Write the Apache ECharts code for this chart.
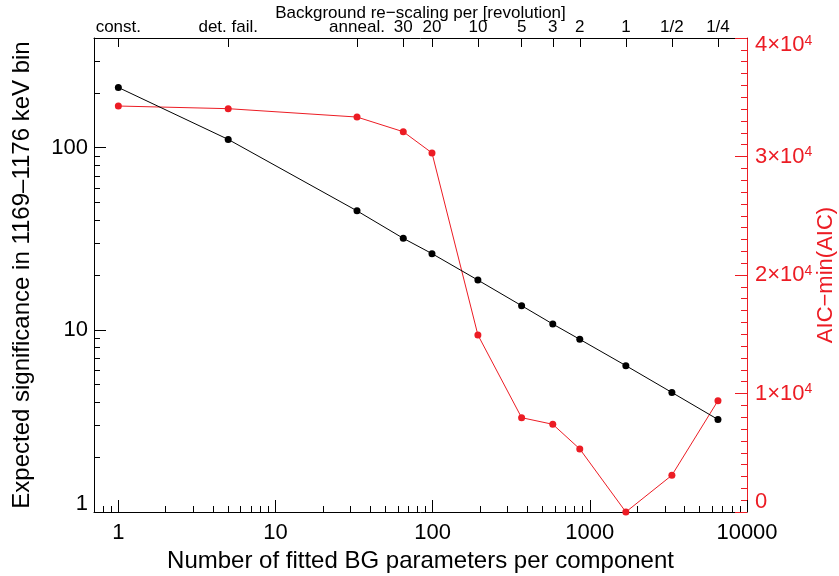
<!DOCTYPE html>
<html>
<head>
<meta charset="utf-8">
<script src="https://cdn.jsdelivr.net/npm/echarts@6/dist/echarts.min.js"></script>
<style>
html,body{margin:0;padding:0;background:#fff;}
#chart{width:839px;height:576px;}
</style>
</head>
<body>
<div id="chart"></div>
<script>
// Number of fitted BG parameters per component (x positions of the points)
var nParams = [1, 5, 33, 65, 99, 194, 368, 581, 863, 1695, 3327, 6535];
// Top-axis labels (background re-scaling per revolution)
var topLabels = ['const.', 'det. fail.', 'anneal.', '30', '20', '10', '5', '3', '2', '1', '1/2', '1/4'];
// Expected significance (left, log axis)
var significance = [214, 111, 45.0, 31.8, 26.2, 18.75, 13.57, 10.76, 8.87, 6.36, 4.53, 3.22];
// AIC - min(AIC) (right, linear axis)
var aicDiff = [34260, 34035, 33330, 32090, 30300, 14940, 7960, 7400, 5320, 0, 3100, 9390];
// Tick values
var xMajor = [1, 10, 100, 1000, 10000];
var xMinor = [0.7, 0.8, 0.9, 2, 3, 4, 5, 6, 7, 8, 9, 20, 30, 40, 50, 60, 70, 80, 90,
  200, 300, 400, 500, 600, 700, 800, 900, 2000, 3000, 4000, 5000, 6000, 7000, 8000, 9000];
var yMajor = [1, 10, 100];
var yMinor = [2, 3, 4, 5, 6, 7, 8, 9, 20, 30, 40, 50, 60, 70, 80, 90, 200, 300];

var RED = '#ec1c24';
var FONT = 'Liberation Sans';
var chart = echarts.init(document.getElementById('chart'));

function nearestIdx(arr, v) {
  var best = 0, bd = Infinity;
  for (var i = 0; i < arr.length; i++) {
    var d = Math.abs(Math.log(arr[i]) - Math.log(v));
    if (d < bd) { bd = d; best = i; }
  }
  return best;
}

var pairs = nParams.map(function (x, i) { return [x, significance[i]]; });
var pairsAic = nParams.map(function (x, i) { return [x, aicDiff[i]]; });

chart.setOption({
  animation: false,
  backgroundColor: '#fff',
  textStyle: { fontFamily: FONT },
  grid: { left: 94, right: 92, top: 38, bottom: 64, containLabel: false, outerBoundsMode: 'none' },
  xAxis: [
    {
      type: 'log', position: 'bottom', min: 0.7, max: 10000,
      axisLine: { show: true, lineStyle: { color: '#000', width: 1 } },
      axisTick: { show: true, inside: true, length: 12, customValues: xMajor, lineStyle: { color: '#000' } },
      axisLabel: { show: true, customValues: xMajor, fontSize: 22, color: '#000', margin: 10, fontFamily: FONT,
        formatter: function (v) { return String(xMajor[nearestIdx(xMajor, v)]); } },
      splitLine: { show: false },
      name: 'Number of fitted BG parameters per component',
      nameLocation: 'middle', nameGap: 37, nameMoveOverlap: false,
      nameTextStyle: { fontSize: 24, color: '#000', fontFamily: FONT }
    },
    {
      type: 'log', position: 'bottom', min: 0.7, max: 10000,
      axisLine: { show: false },
      axisTick: { show: true, inside: true, length: 6, customValues: xMinor, lineStyle: { color: '#000' } },
      axisLabel: { show: false },
      splitLine: { show: false }
    },
    {
      type: 'log', position: 'top', min: 0.7, max: 10000,
      axisLine: { show: true, lineStyle: { color: '#000', width: 1 } },
      axisTick: { show: true, inside: true, length: 9, customValues: nParams, lineStyle: { color: '#000' } },
      axisLabel: { show: true, customValues: nParams, fontSize: 17, color: '#000', margin: 2, fontFamily: FONT,
        formatter: function (v) { return topLabels[nearestIdx(nParams, v)]; } },
      splitLine: { show: false },
      name: 'Background re\u2212scaling per [revolution]',
      nameLocation: 'middle', nameGap: 16.5, nameMoveOverlap: false,
      nameTextStyle: { fontSize: 17, color: '#000', fontFamily: FONT }
    }
  ],
  yAxis: [
    {
      type: 'log', position: 'left', min: 1, max: 400,
      axisLine: { show: true, lineStyle: { color: '#000', width: 1 } },
      axisTick: { show: true, inside: true, length: 12, customValues: yMajor, lineStyle: { color: '#000' } },
      axisLabel: { show: true, customValues: yMajor, fontSize: 22, color: '#000', margin: 6, fontFamily: FONT,
        formatter: function (v) {
          var t = yMajor[nearestIdx(yMajor, v)];
          return t === 1 ? '{lo|1}' : String(t);
        },
        rich: { lo: { fontSize: 22, fontFamily: FONT, color: '#000', padding: [0, 0, 16, 0] } } },
      splitLine: { show: false },
      name: 'Expected significance in 1169\u20131176 keV bin',
      nameLocation: 'middle', nameGap: 60, nameRotate: 90, nameMoveOverlap: false,
      nameTextStyle: { fontSize: 24, color: '#000', fontFamily: FONT }
    },
    {
      type: 'log', position: 'left', min: 1, max: 400,
      axisLine: { show: false },
      axisTick: { show: true, inside: true, length: 6, customValues: yMinor, lineStyle: { color: '#000' } },
      axisLabel: { show: false },
      splitLine: { show: false }
    },
    {
      type: 'value', position: 'right', min: 0, max: 40000, interval: 10000,
      axisLine: { show: true, lineStyle: { color: RED, width: 1 } },
      axisTick: { show: true, inside: true, length: 12, lineStyle: { color: RED } },
      minorTick: { show: true, splitNumber: 10, length: 6, lineStyle: { color: RED } },
      axisLabel: { show: true, color: RED, margin: 8, fontFamily: FONT,
        formatter: function (v) {
          if (v === 0) return '{z|0}';
          var m = Math.round(v / 10000);
          if (v === 40000) return '{t|' + m + '\u00d710}{st|4}';
          return '{b|' + m + '\u00d710}{s|4}';
        },
        rich: {
          z: { fontSize: 22, color: RED, fontFamily: FONT, padding: [0, 0, 20, 0] },
          b: { fontSize: 22, color: RED, fontFamily: FONT },
          t: { fontSize: 22, color: RED, fontFamily: FONT, padding: [14, 0, 0, 0] },
          s: { fontSize: 14, color: RED, fontFamily: FONT, verticalAlign: 'top' },
          st: { fontSize: 14, color: RED, fontFamily: FONT, verticalAlign: 'top', padding: [14, 0, 0, 0] }
        } },
      splitLine: { show: false },
      name: 'AIC\u2212min(AIC)',
      nameLocation: 'middle', nameGap: 68, nameRotate: 90, nameMoveOverlap: false,
      nameTextStyle: { fontSize: 22, color: RED, fontFamily: FONT }
    }
  ],
  series: [
    {
      type: 'line', xAxisIndex: 0, yAxisIndex: 2, data: pairsAic,
      symbol: 'circle', symbolSize: 7,
      lineStyle: { color: RED, width: 1 }, itemStyle: { color: RED }, z: 3
    },
    {
      type: 'line', xAxisIndex: 0, yAxisIndex: 0, data: pairs,
      symbol: 'circle', symbolSize: 7,
      lineStyle: { color: '#000', width: 1 }, itemStyle: { color: '#000' }, z: 4
    }
  ]
});
</script>
</body>
</html>
